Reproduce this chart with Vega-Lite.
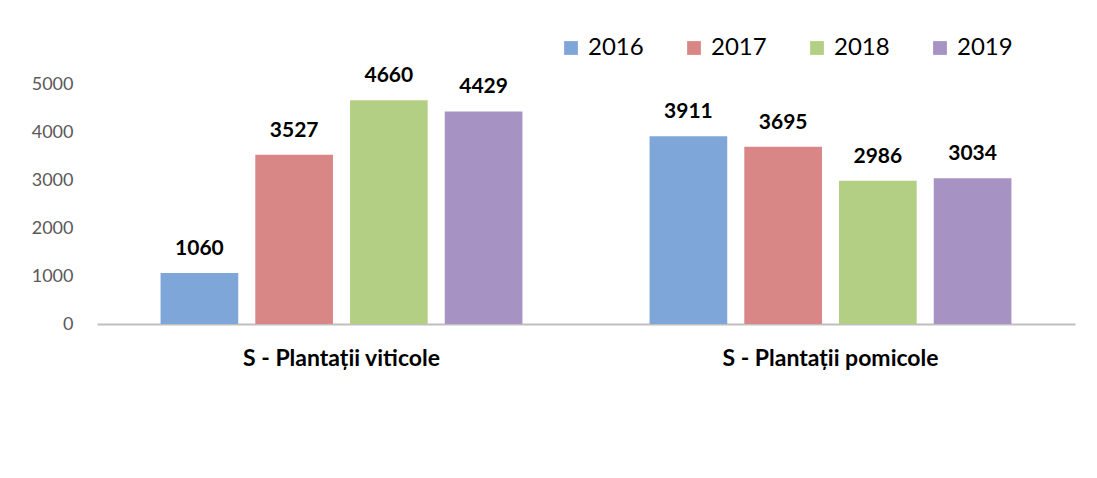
{
  "$schema": "https://vega.github.io/schema/vega-lite/v6.json",
  "width": 978,
  "height": 240,
  "autosize": {"type": "none"},
  "padding": {"left": 97, "top": 84, "right": 22, "bottom": 154},
  "background": "white",
  "config": {"view": {"stroke": null}, "font": "Lato"},
  "data": {"values": [
    {"cat": "S - Plantații viticole", "year": "2016", "value": 1060},
    {"cat": "S - Plantații viticole", "year": "2017", "value": 3527},
    {"cat": "S - Plantații viticole", "year": "2018", "value": 4660},
    {"cat": "S - Plantații viticole", "year": "2019", "value": 4429},
    {"cat": "S - Plantații pomicole", "year": "2016", "value": 3911},
    {"cat": "S - Plantații pomicole", "year": "2017", "value": 3695},
    {"cat": "S - Plantații pomicole", "year": "2018", "value": 2986},
    {"cat": "S - Plantații pomicole", "year": "2019", "value": 3034}
  ]},
  "encoding": {
    "x": {"field": "cat", "type": "nominal", "sort": null,
      "scale": {"paddingInner": 0.26, "paddingOuter": 0.13},
      "axis": {"title": null, "labelAngle": 0, "ticks": false, "domainColor": "#bfbfbf", "domainWidth": 2, "labelLimit": 400,
        "labelFont": "Lato", "labelFontWeight": "bold", "labelFontSize": 23, "labelColor": "#000000", "labelPadding": 23}},
    "xOffset": {"field": "year", "type": "nominal", "scale": {"paddingInner": 0.18, "paddingOuter": 0}},
    "y": {"field": "value", "type": "quantitative",
      "scale": {"domain": [0, 5000]},
      "axis": {"title": null, "values": [0, 1000, 2000, 3000, 4000, 5000], "format": "d", "grid": false, "ticks": false, "domain": false,
        "labelFont": "Lato", "labelFontSize": 18, "labelColor": "#595959", "labelPadding": 24}}
  },
  "layer": [
    {
      "mark": {"type": "bar", "stroke": null},
      "encoding": {
        "color": {"field": "year", "type": "nominal",
          "scale": {"domain": ["2016", "2017", "2018", "2019"], "range": ["#7fa6d8", "#d98786", "#b3cf84", "#a693c3"]},
          "legend": {"title": null, "orient": "none", "direction": "horizontal", "legendX": 462, "legendY": -48,
            "symbolType": "square", "symbolSize": 190, "symbolStrokeWidth": 0, "symbolOffset": 0,
            "labelFont": "Lato", "labelFontSize": 24, "labelColor": "#000000", "columnPadding": 38, "labelOffset": 5}}
      }
    },
    {
      "mark": {"type": "text", "dy": -24, "fontWeight": "bold", "fontSize": 21, "font": "Lato", "color": "#000000"},
      "encoding": {"text": {"field": "value", "type": "quantitative", "format": "d"}}
    }
  ]
}
